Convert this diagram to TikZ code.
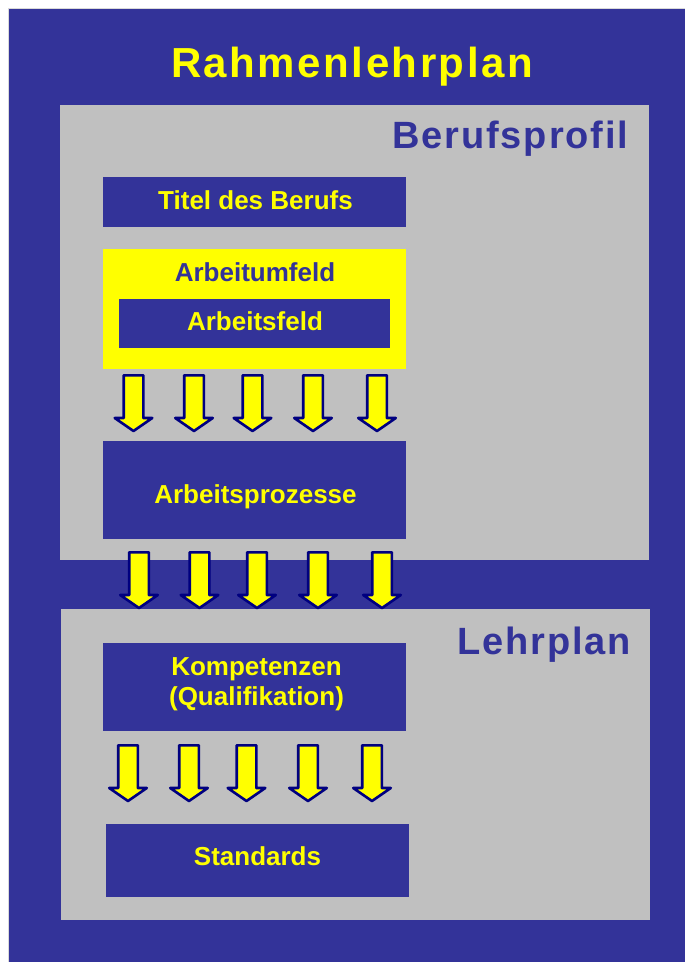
\documentclass[tikz,border=0pt]{standalone}
\usepackage{fontspec}
\setmainfont{Liberation Sans}
\definecolor{rblue}{HTML}{333399}
\definecolor{ryellow}{HTML}{FFFF00}
\definecolor{rgray}{HTML}{C0C0C0}
\definecolor{rnavy}{HTML}{000080}
\begin{document}
\begin{tikzpicture}[x=1pt,y=-1pt,
  panel/.style={fill=rgray, inner sep=0pt, anchor=north west},
  bluebox/.style={fill=rblue, inner sep=0pt, anchor=north west},
  boxtext/.style={inner sep=0pt, anchor=base, text=ryellow,
    font=\fontsize{26}{30}\selectfont\bfseries},
  titletext/.style={inner sep=0pt, anchor=base, text=ryellow,
    font=\addfontfeatures{LetterSpace=6}\fontsize{42}{48}\selectfont\bfseries},
  paneltitle/.style={inner sep=0pt, anchor=base west, text=rblue,
    font=\addfontfeatures{LetterSpace=5}\fontsize{38}{44}\selectfont\bfseries},
  arrowshape/.style={fill=ryellow, draw=rnavy, line width=2.6pt, line join=round},
  darrow/.pic={\filldraw[arrowshape] (-9.8,1.3) -- (9.8,1.3) -- (9.8,44) -- (18.8,44) -- (0,57) -- (-18.8,44) -- (-9.8,44) -- cycle;}
]
\useasboundingbox (0,0) rectangle (685,962);
\fill[white] (0,0) rectangle (685,962);
\draw[gray!30, line width=0.6pt] (8,962) -- (8,8) -- (685,8);
\node[fill=rblue, inner sep=0pt, anchor=north west, minimum width=676pt, minimum height=953pt] (frame) at (9,9) {};

\node[titletext] (title) at (352,77) {Rahmenlehrplan};

% Berufsprofil panel
\node[panel, minimum width=589pt, minimum height=455pt] (bp) at (60,105) {};
\node[paneltitle] (bptitle) at (392,148) {Berufsprofil};

\node[bluebox, minimum width=303pt, minimum height=50pt] (titel) at (103,177) {};
\node[boxtext] (titeltxt) at (255.5,209) {Titel des Berufs};
\node[fill=ryellow, inner sep=0pt, anchor=north west, minimum width=303pt, minimum height=120pt] (umfeld) at (103,249) {};
\node[boxtext, text=rblue] (umfeldtxt) at (255,281) {Arbeitumfeld};
\node[bluebox, minimum width=271pt, minimum height=49pt] (feld) at (119,299) {};
\node[boxtext] (feldtxt) at (255,330) {Arbeitsfeld};

\foreach \cx in {133.5,194,252.5,313,377} \pic at (\cx,374) {darrow};

\node[bluebox, minimum width=303pt, minimum height=98pt] (prozesse) at (103,441) {};
\node[boxtext] (prozessetxt) at (255.5,503) {Arbeitsprozesse};

% Lehrplan panel
\node[panel, minimum width=589pt, minimum height=311pt] (lp) at (61,609) {};
\node[paneltitle] (lptitle) at (457,654) {Lehrplan};

\foreach \cx in {139,199.5,257,318,382} \pic at (\cx,551) {darrow};

\node[bluebox, minimum width=303pt, minimum height=88pt] (komp) at (103,643) {};
\node[boxtext] (komptxt1) at (256.5,675) {Kompetenzen};
\node[boxtext] (komptxt2) at (256.5,705) {(Qualifikation)};

\foreach \cx in {128,189,246.5,308,372} \pic at (\cx,744) {darrow};

\node[bluebox, minimum width=303pt, minimum height=73pt] (std) at (106,824) {};
\node[boxtext] (stdtxt) at (257.5,865) {Standards};
\end{tikzpicture}
\end{document}
